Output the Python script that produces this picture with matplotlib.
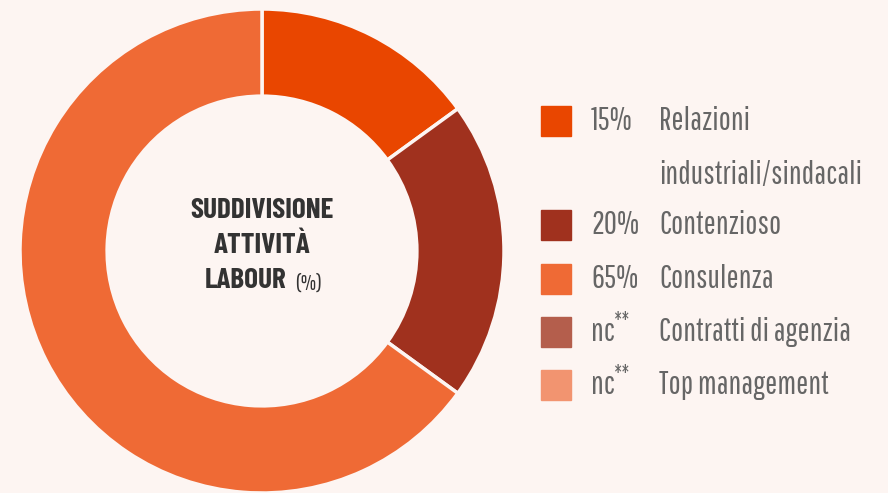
import matplotlib
matplotlib.use("Agg")
import matplotlib.pyplot as plt
from matplotlib.patches import Rectangle

shares = [15, 20, 65]
share_colors = ["#e94600", "#a0311e", "#ef6a35"]

legend_pct = ["15%", "20%", "65%", "nc", "nc"]
legend_note = ["", "", "", "**", "**"]
legend_names = ["Relazioni\nindustriali/sindacali", "Contenzioso", "Consulenza",
                "Contratti di agenzia", "Top management"]
legend_colors = ["#e94600", "#a0311e", "#ef6a35", "#b45e4c", "#f29470"]

bg = "#fdf5f2"
fam = ["Pathway Gothic One", "DejaVu Sans"]
fam_bold = ["Barlow Condensed", "DejaVu Sans"]

W, H = 888, 493
fig = plt.figure(figsize=(W / 100, H / 100), dpi=100)
fig.set_facecolor(bg)

# donut: centre (262, 251) px, radius 242 px
cx, cy, r = 262, 251, 242
ax = fig.add_axes([(cx - r) / W, (H - cy - r) / H, 2 * r / W, 2 * r / H])
ax.set_facecolor(bg)
ax.pie(shares, colors=share_colors, startangle=90, counterclock=False, radius=1,
       wedgeprops=dict(width=0.36, edgecolor=bg, linewidth=2.5))
ax.set_xlim(-1, 1)
ax.set_ylim(-1, 1)
ax.set_aspect("equal")
ax.axis("off")

def fx(px):
    return px / W

def fy(py):
    return 1 - py / H

fig.text(fx(262), fy(211), "SUDDIVISIONE", ha="center", va="center", fontsize=21,
         fontweight="bold", color="#333333", family=fam_bold)
fig.text(fx(262), fy(245), "ATTIVITÀ", ha="center", va="center", fontsize=21,
         fontweight="bold", color="#333333", family=fam_bold)
fig.text(fx(287), fy(280), "LABOUR", ha="right", va="center", fontsize=21,
         fontweight="bold", color="#333333", family=fam_bold)
fig.text(fx(295), fy(284), "(%)", ha="left", va="center", fontsize=16,
         color="#333333", family=fam)

# legend
rows = [121, 225, 279, 332, 385]
for y, pct, note, name, col in zip(rows, legend_pct, legend_note, legend_names, legend_colors):
    fig.patches.append(Rectangle((fx(541), fy(y + 15)), 30 / W, 30 / H,
                                 transform=fig.transFigure, color=col))
    fig.text(fx(591), fy(y), pct, ha="left", va="center", fontsize=23,
             color="#666666", family=fam)
    if note:
        fig.text(fx(614), fy(y - 10), note, ha="left", va="center", fontsize=15,
                 color="#666666", family=fam)
    fig.text(fx(659), fy(y), name.split("\n")[0], ha="left", va="center",
             fontsize=23, color="#666666", family=fam)
    if "\n" in name:
        fig.text(fx(659), fy(y + 54), name.split("\n")[1], ha="left", va="center",
                 fontsize=23, color="#666666", family=fam)

fig.savefig("out.png", dpi=100, facecolor=bg)
